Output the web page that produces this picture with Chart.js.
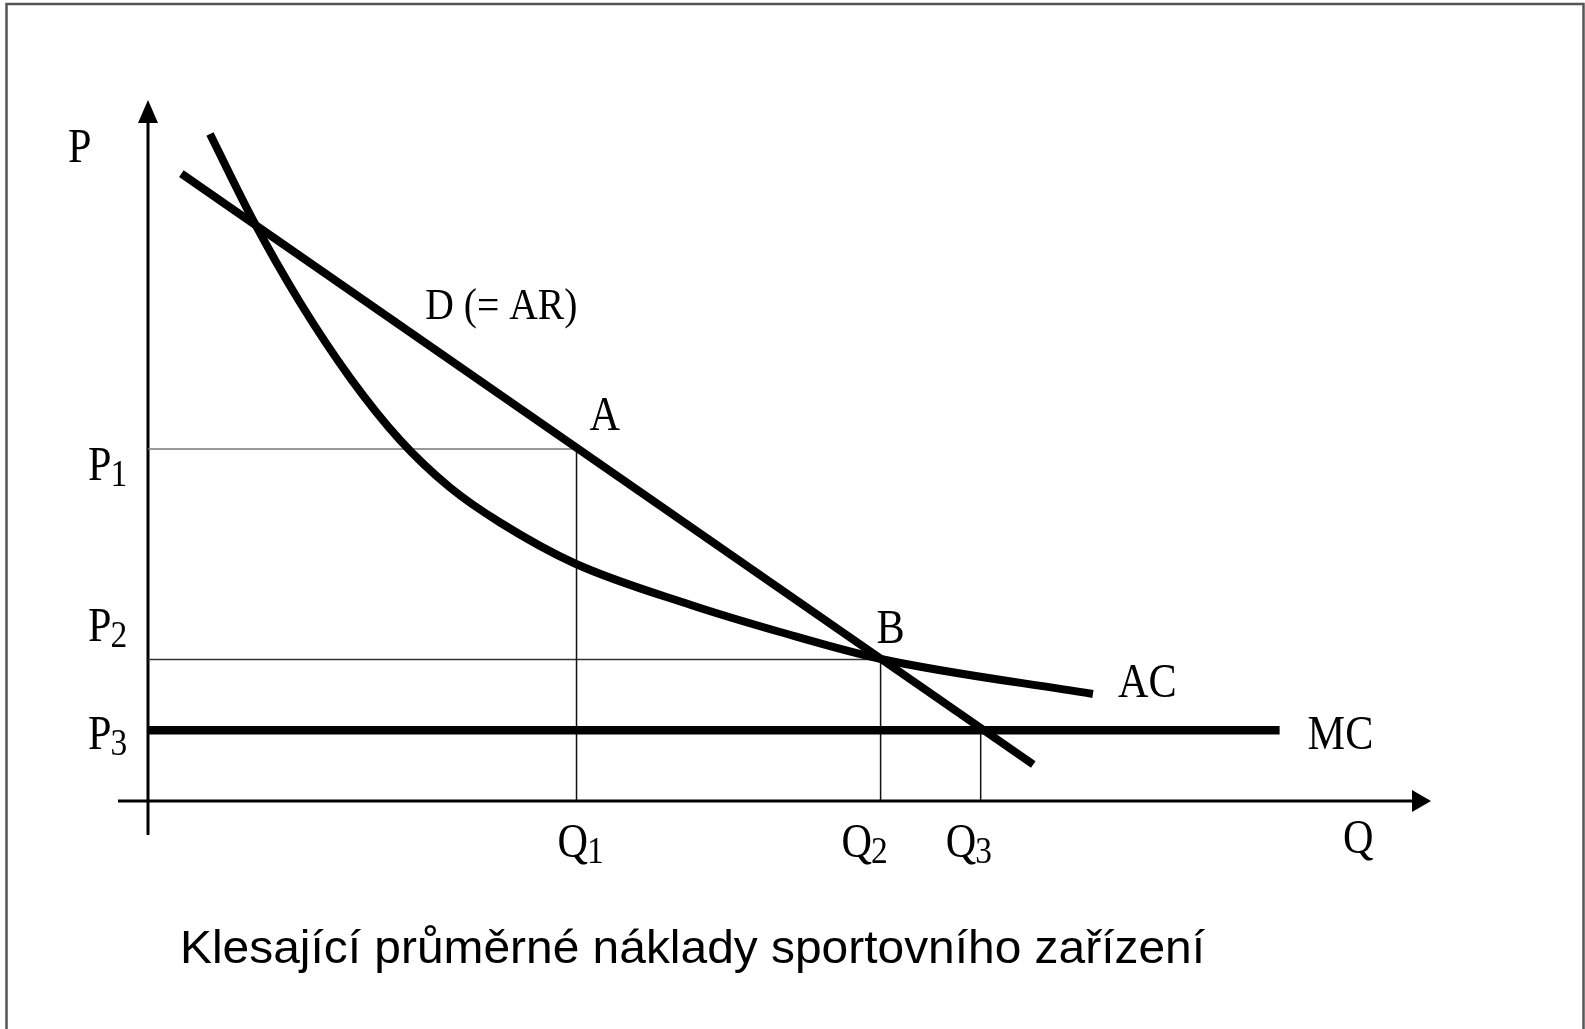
<!DOCTYPE html>
<html><head><meta charset="utf-8">
<script src="https://cdn.jsdelivr.net/npm/chart.js@4"></script>
<style>html,body{margin:0;padding:0;background:#fff;overflow:hidden}canvas{display:block}</style>
</head><body>
<canvas id="c" width="1585" height="1029"></canvas>
<script>
// ---- data (arbitrary units, 0..100 on both axes) ----
const quantityTicks = ['1', '2', '3'];          // Q subscripts
const quantityValues = [33.4, 57.1, 64.9];      // Q1, Q2, Q3
const priceTicks = ['1', '2', '3'];             // P subscripts
const priceValues = [50.2, 20.2, 10.1];         // P1, P2, P3
const demandQ = [2.6, 69.0];
const demandP = [89.5, 5.2];
const acQ = [4.83, 8.26, 11.85, 15.74, 19.64, 23.54, 27.44, 33.28, 42.32, 49.26, 57.13, 73.65];
const acP = [95.15, 82.60, 71.11, 60.41, 51.50, 44.72, 39.73, 33.88, 27.96, 24.11, 20.26, 15.26];
const mcQ = [0, 88.2];
const curveLabels = ['D (= AR)', 'AC', 'MC'];
const pointLabels = ['A', 'B'];
const axisTitles = ['P', 'Q'];
const caption = 'Klesající průměrné náklady sportovního zařízení';

const pts = (xs, ys) => xs.map((x, i) => ({x, y: ys[i]}));
const mcP = priceValues[2];

function guide(data, color) {
  return {data, showLine: true, borderColor: color, borderWidth: 1.5, pointRadius: 0, order: 10, clip: false};
}
function curve(data, w, extra) {
  return Object.assign({data, showLine: true, borderColor: '#000', borderWidth: w, pointRadius: 0, order: 0, clip: false, borderCapStyle: 'butt'}, extra || {});
}

const datasets = [
  guide([{x: 0, y: priceValues[0]}, {x: quantityValues[0], y: priceValues[0]}], '#777'),
  guide([{x: quantityValues[0], y: priceValues[0]}, {x: quantityValues[0], y: 0}], '#111'),
  guide([{x: 0, y: priceValues[1]}, {x: quantityValues[1], y: priceValues[1]}], '#333'),
  guide([{x: quantityValues[1], y: priceValues[1]}, {x: quantityValues[1], y: 0}], '#111'),
  guide([{x: quantityValues[2], y: priceValues[2]}, {x: quantityValues[2], y: 0}], '#111'),
  curve(pts(demandQ, demandP), 8),
  curve(pts(acQ, acP), 8, {cubicInterpolationMode: 'monotone'}),
  curve(pts(mcQ, [mcP, mcP]), 8.5)
];

const SERIF = '"Liberation Serif", "Times New Roman", serif';
const SANS = '"Liberation Sans", Arial, sans-serif';

function drawText(ctx, s, x, y, size, family, sx) {
  ctx.save();
  ctx.font = size + 'px ' + family;
  ctx.translate(x, y);
  ctx.scale(sx, 1);
  ctx.textBaseline = 'alphabetic';
  ctx.textAlign = 'left';
  ctx.fillStyle = '#000';
  ctx.fillText(s, 0, 0);
  const w = ctx.measureText(s).width * sx;
  ctx.restore();
  return w;
}
function serifLabel(ctx, main, sub, x, y) {
  const w = drawText(ctx, main, x, y, 48, SERIF, 0.88);
  if (sub) drawText(ctx, sub, x + w - 1, y + 6, 38, SERIF, 0.88);
}

const decor = {
  id: 'decor',
  beforeDatasetsDraw(chart) {
    const ctx = chart.ctx;
    const xs = chart.scales.x, ys = chart.scales.y;
    const x0 = xs.getPixelForValue(0), y0 = ys.getPixelForValue(0);
    const top = chart.chartArea.top, right = chart.chartArea.right;
    ctx.save();
    ctx.fillStyle = '#000';
    ctx.strokeStyle = '#000';
    ctx.lineWidth = 3;
    // y axis
    ctx.beginPath(); ctx.moveTo(x0, y0 + 34); ctx.lineTo(x0, top + 22); ctx.stroke();
    ctx.beginPath(); ctx.moveTo(x0, top); ctx.lineTo(x0 - 10, top + 23); ctx.lineTo(x0 + 10, top + 23); ctx.closePath(); ctx.fill();
    // x axis
    ctx.beginPath(); ctx.moveTo(x0 - 30, y0); ctx.lineTo(right - 18, y0); ctx.stroke();
    ctx.beginPath(); ctx.moveTo(right, y0); ctx.lineTo(right - 19, y0 - 11); ctx.lineTo(right - 19, y0 + 11); ctx.closePath(); ctx.fill();
    // frame
    ctx.strokeStyle = '#555';
    ctx.lineWidth = 2.5;
    ctx.beginPath(); ctx.moveTo(6.5, 1029); ctx.lineTo(6.5, 4); ctx.lineTo(1583.5, 4); ctx.lineTo(1583.5, 1029); ctx.stroke();
    ctx.restore();
  },
  afterDraw(chart) {
    const ctx = chart.ctx;
    const xs = chart.scales.x, ys = chart.scales.y;
    const X = v => xs.getPixelForValue(v), Y = v => ys.getPixelForValue(v);
    const x0 = X(0), y0 = Y(0);
    // axis titles
    serifLabel(ctx, axisTitles[0], '', x0 - 80, chart.chartArea.top + 62);
    serifLabel(ctx, axisTitles[1], '', chart.chartArea.right - 88, y0 + 52);
    // P labels
    const pdy = [31, -18, 19];
    priceTicks.forEach((t, i) => serifLabel(ctx, 'P', t, x0 - 60, Y(priceValues[i]) + pdy[i]));
    // Q labels
    const qdx = [-19, -39, -35];
    quantityTicks.forEach((t, i) => serifLabel(ctx, 'Q', t, X(quantityValues[i]) + qdx[i], y0 + 56));
    // point labels
    serifLabel(ctx, pointLabels[0], '', X(quantityValues[0]) + 13, Y(priceValues[0]) - 19);
    serifLabel(ctx, pointLabels[1], '', X(quantityValues[1]) - 4, Y(priceValues[1]) - 16);
    // curve labels
    drawText(ctx, curveLabels[0], X(demandQ[0]) + 244, Y(demandP[0]) + 145, 45, SERIF, 0.88);
    serifLabel(ctx, curveLabels[1], '', X(acQ[acQ.length - 1]) + 25, Y(acP[acP.length - 1]) + 3);
    serifLabel(ctx, curveLabels[2], '', X(mcQ[1]) + 28, Y(mcP) + 19);
    // caption, fitted to its width
    ctx.save();
    ctx.font = '46px ' + SANS;
    const natural = ctx.measureText(caption).width;
    ctx.restore();
    drawText(ctx, caption, 180, 963, 46, SANS, 1025 / natural);
  }
};

new Chart(document.getElementById('c'), {
  type: 'scatter',
  data: {datasets},
  options: {
    responsive: false,
    devicePixelRatio: 1,
    animation: false,
    events: [],
    layout: {padding: {left: 148, right: 154, top: 100, bottom: 228}},
    scales: {
      x: {type: 'linear', min: 0, max: 100, display: false},
      y: {type: 'linear', min: 0, max: 100, display: false}
    },
    plugins: {legend: {display: false}, tooltip: {enabled: false}}
  },
  plugins: [decor]
});
</script>
</body></html>
